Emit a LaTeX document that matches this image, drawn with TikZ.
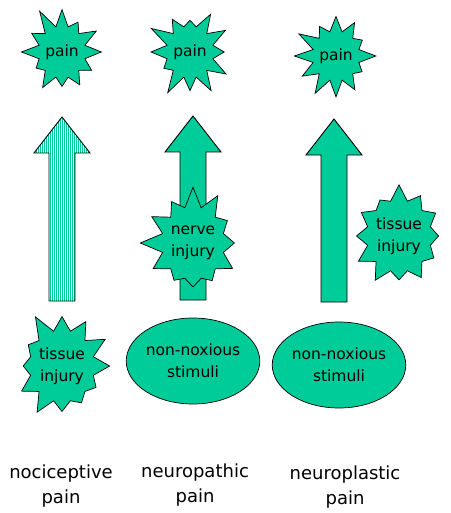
\documentclass[tikz,border=0pt]{standalone}
\usepackage{fontspec}
\setmainfont{DejaVu Sans}
\usetikzlibrary{shapes.symbols,shapes.geometric,positioning}
\definecolor{painfill}{HTML}{00CC99}
% outline of a big upward arrow: x of tip, y of tip, y of bottom
\newcommand{\uparrowpath}[3]{(#1,#2) -- (#1+28,#2+36) -- (#1+13,#2+36) -- (#1+13,#3) -- (#1-13,#3) -- (#1-13,#2+36) -- (#1-28,#2+36) -- cycle}

\tikzset{
  burst/.style={starburst, draw=black, fill=painfill, line width=0.7pt, starburst points=12,
    starburst point height=22pt, inner sep=0pt, align=center, font=\fontsize{15.5}{22}\selectfont},
  blob/.style={ellipse, draw=black, fill=painfill, line width=0.7pt, inner sep=0pt,
    minimum width=110pt, minimum height=86pt, align=center, font=\fontsize{15.5}{22}\selectfont},
  kindtext/.style={align=center, font=\fontsize{18}{25}\selectfont},
  bigarrow/.style={draw=black, line width=0.9pt}
}

\begin{document}
\begin{tikzpicture}[x=1pt,y=-1pt]
  \useasboundingbox (0,0) rectangle (450,513);

  % striped arrow
  \begin{scope}
    \clip \uparrowpath{62}{117}{301};
    \foreach \x in {34.5,36.5,...,90}
      \draw[painfill, line width=1.1pt] (\x,110) -- (\x,305);
  \end{scope}
  \draw[bigarrow] \uparrowpath{62}{117}{301};
  % solid arrows
  \draw[bigarrow, fill=painfill] \uparrowpath{193}{116}{300};
  \draw[bigarrow, fill=painfill] \uparrowpath{334}{119}{302};

  % pain
  \node[burst, minimum width=82pt, minimum height=96pt, random starburst=11] (pain1) at (62,52) {pain};
  \node[burst, minimum width=82pt, minimum height=96pt, random starburst=23] (pain2) at (190,52) {pain};
  \node[burst, minimum width=84pt, minimum height=94pt, random starburst=41] (pain3) at (336,56) {pain};

  % causes
  \node[burst, minimum width=94pt, minimum height=116pt, random starburst=5] (tissue1) at (62,366) {tissue\\injury};
  \node[burst, minimum width=91pt, minimum height=117pt, random starburst=17] (nerve) at (193,243) {nerve\\injury};
  \node[burst, minimum width=92pt, minimum height=116pt, random starburst=31] (tissue3) at (399,236) {tissue\\injury};
  \node[blob] (stim2) at (193,361) {non-noxious\\stimuli};
  \node[blob] (stim3) at (339,365) {non-noxious\\stimuli};

  % kinds of pain
  \node[kindtext] (noci) at (61,486) {nociceptive\\pain};
  \node[kindtext] (neuropath) at (195,485) {neuropathic\\pain};
  \node[kindtext] (neuroplast) at (345,487) {neuroplastic\\pain};
\end{tikzpicture}
\end{document}
